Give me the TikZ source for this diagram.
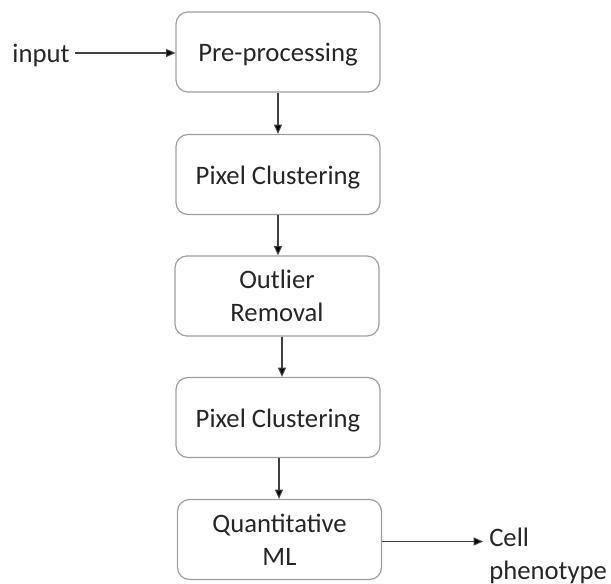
\documentclass[tikz,border=0pt]{standalone}
\usepackage{fontspec}
\setmainfont{Carlito}
\usetikzlibrary{arrows.meta}

\tikzset{
  stagebox/.style={draw=black!38, line width=0.9pt, rounded corners=9pt, minimum width=153pt, minimum height=60pt, align=center, inner sep=2pt},
  oneline/.style={text height=15pt, text depth=0pt},
  flowarrow/.style={draw=black!75, line width=0.8pt, -{Triangle[length=7pt,width=6pt,fill=black]}},
}

\begin{document}
\begin{tikzpicture}[x=0.75pt,y=0.75pt,yscale=-1,xscale=1,font=\fontsize{20}{24.5}\selectfont,text=black!85]
\useasboundingbox (0,0) rectangle (611,584);

% Stages
\node [stagebox,oneline] (pre) at (278,52) {Pre-processing};
\node [stagebox,oneline] (clusta) at (278,174.5) {Pixel Clustering};
\node [stagebox] (outl) at (277,296) {Outlier\\Removal};
\node [stagebox,oneline] (clustb) at (278,417.5) {Pixel Clustering};
\node [stagebox] (quant) at (279.5,539.5) {Quantitative\\ML};

% Input and output
\node [oneline, inner sep=4pt] (input) at (41,53) {input};
\coordinate (outend) at (483,541.5);
\node [anchor=north west, inner sep=0pt, align=left] (phen) at (489,528) {Cell\\phenotype};

% Connectors
\draw [flowarrow] (input) -- (pre.west |- input);
\draw [flowarrow] (pre) -- (clusta);
\draw [flowarrow] (clusta) -- (outl.north -| clusta.south);
\draw [flowarrow] (outl.south -| 282,0) -- (clustb.north -| 282,0);
\draw [flowarrow] (clustb.south -| 279,0) -- (quant.north -| 279,0);
\draw [flowarrow] (quant.east |- outend) -- (outend);

\end{tikzpicture}
\end{document}
